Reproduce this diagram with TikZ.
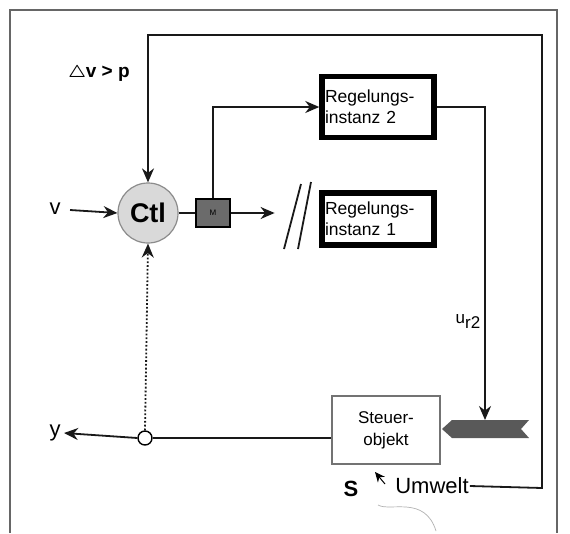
\documentclass[tikz,border=0pt]{standalone}
\usepackage{fontspec}
\setmainfont{Liberation Sans}
\usetikzlibrary{arrows.meta}
\begin{document}
\begin{tikzpicture}[x=1pt,y=-1pt,
  line/.style={draw=black!90,line width=1.8pt},
  arr/.style={line,-{Stealth[length=14pt,width=12pt]}},
  inst/.style={draw=black,line width=5.5pt,fill=white,minimum width=112pt,align=left,font=\fontsize{17.5}{21}\selectfont,inner sep=2pt,text width=106pt},
  lbl/.style={font=\fontsize{22}{24}\selectfont}]
\useasboundingbox (0,0) rectangle (570,533);
\fill[white] (0,0) rectangle (570,533);
% outer frame
\draw[black!60,line width=1.5pt] (10,533) -- (10,10) -- (557,10) -- (557,533);
% nodes
\node[circle,draw=black!45,fill=black!15,line width=1.2pt,minimum size=60pt,inner sep=0pt,font=\fontsize{27}{28}\selectfont\bfseries] (ctl) at (148,213) {Ctl};
\node[draw=black,fill=black!58,line width=1.2pt,minimum width=34pt,minimum height=28pt,inner sep=0pt,font=\fontsize{8}{9}\selectfont] (m) at (213,213) {M};
\node[inst,minimum height=61pt] (ri2) at (378,107) {Regelungs-\\instanz 2};
\node[inst,minimum height=52pt] (ri1) at (378,219) {Regelungs-\\instanz 1};
\node[draw=black!55,line width=1.6pt,fill=white,minimum width=108pt,minimum height=68pt,align=center,font=\fontsize{17}{22}\selectfont] (so) at (386,430) {Steuer-\\objekt};
\node[lbl] (v) at (55,209) {v};
\node[lbl] (y) at (55,433) {y};
\node[circle,draw=black,fill=white,line width=1.4pt,minimum size=14pt,inner sep=0pt] (jn) at (145,438) {};
\node[font=\fontsize{19}{21}\selectfont\bfseries] (dv) at (99,73) {{\boldmath$\bigtriangleup$}v > p};
\node[font=\fontsize{17}{19}\selectfont] (ur) at (468,322) {u\raisebox{-5pt}{\fontsize{17}{19}\selectfont r2}};
\node[font=\fontsize{22}{24}\selectfont\bfseries] (s) at (351,489) {S};
\node[font=\fontsize{22}{24}\selectfont,inner sep=1pt] (um) at (432,486) {Umwelt};
% disturbance bar
\fill[black!65] (442,429) -- (452,420) -- (529,420) -- (521,429) -- (529,438) -- (452,438) -- cycle;
\coordinate (bartop) at (485,420);
% connectors
\draw[arr] (v.east) ++(6,1) -- (ctl.west);
\draw[line] (ctl.east) -- (m.west);
\draw[arr] (m.east) -- ++(44,0) coordinate (mend);
\draw[arr] (m.north) -- (m.north |- ri2.west) -- (ri2.west);
\draw[arr] (ri2.east) -- (485,107) -- (bartop);
\draw[arr] (um.east) -- (542,488) -- (542,35) -- (148,35) -- (ctl.north);
\draw[line] (so.west |- jn) -- (jn.east);
\draw[arr] (jn.west) -- (y.east);
\draw[line,dotted,line width=1.8pt,-{Stealth[length=14pt,width=12pt]}] (jn.north) -- (ctl.south);
% slashes
\draw[line,line width=1.8pt] (284,249) -- (301,184);
\draw[line,line width=1.8pt] (298,249) -- (311,182);
% small arrow from Umwelt to Steuerobjekt
\draw[black,line width=1pt,-{Stealth[length=10pt,width=9pt]}] (385,484) -- (375,472);
\draw[black!30,line width=0.7pt] (378,505) .. controls (390,512) and (425,495) .. (436,531);
\end{tikzpicture}
\end{document}
